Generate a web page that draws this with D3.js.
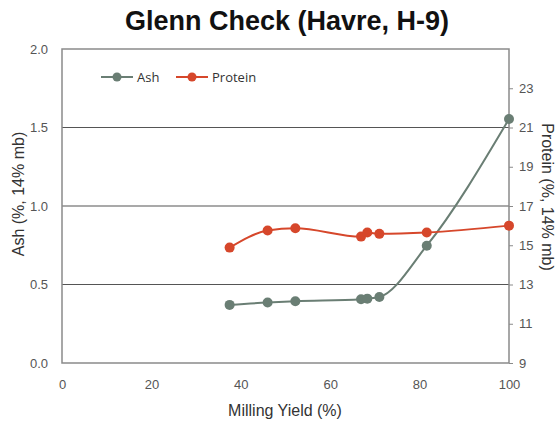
<!DOCTYPE html>
<html><head><meta charset="utf-8">
<script src="https://cdn.jsdelivr.net/npm/d3@7"></script>
<style>body{margin:0;background:#fff;}svg{display:block;}</style>
</head><body>
<svg id="c" width="560" height="427"></svg>
<script>
const millingYield = [37.5, 46.0, 52.2, 66.9, 68.3, 71.0, 81.6, 100];
const ashValues = [0.37, 0.385, 0.393, 0.406, 0.41, 0.42, 0.747, 1.554];
const proteinValues = [14.88, 15.75, 15.87, 15.44, 15.65, 15.58, 15.65, 16.0];
const xTicks = [0, 20, 40, 60, 80, 100];
const ashTicks = [0.0, 0.5, 1.0, 1.5, 2.0];
const proteinTicks = [9, 11, 13, 15, 17, 19, 21, 23];
const seriesNames = ["Ash", "Protein"];
const colors = {Ash: "#6a7e74", Protein: "#d6472b"};

const svg = d3.select("#c");
const L = 62, R = 509, T = 49, B = 363;
const x = d3.scaleLinear().domain([0, 100]).range([L, R]);
const yA = d3.scaleLinear().domain([0, 2]).range([B, T]);
const yP = d3.scaleLinear().domain([9, 25]).range([B, T]);
const font = "Liberation Sans, Arial, sans-serif";

// title
svg.append("text").attr("x", 287).attr("y", 30).attr("text-anchor", "middle")
  .attr("font-family", font).attr("font-weight", "bold").attr("font-size", 27)
  .attr("fill", "#111").text("Glenn Check (Havre, H-9)");

// gridlines
svg.append("g").selectAll("line").data(ashTicks.filter(d => d > 0 && d < 2)).join("line")
  .attr("x1", L).attr("x2", R).attr("y1", d => yA(d)).attr("y2", d => yA(d))
  .attr("stroke", "#555").attr("stroke-width", 1.2);

// frame
svg.append("rect").attr("x", L).attr("y", T).attr("width", R - L).attr("height", B - T)
  .attr("fill", "none").attr("stroke", "#8a8a8a").attr("stroke-width", 1.5);

// left axis
const gL = svg.append("g").attr("transform", `translate(${L},0)`)
  .call(d3.axisLeft(yA).tickValues(ashTicks).tickFormat(d3.format(".1f")).tickSize(0).tickPadding(14));
gL.select(".domain").remove();
gL.selectAll("text").attr("font-family", font).attr("font-size", 13).attr("fill", "#555");

// right axis
const gR = svg.append("g").attr("transform", `translate(${R},0)`)
  .call(d3.axisRight(yP).tickValues(proteinTicks).tickSize(4).tickPadding(6));
gR.select(".domain").remove();
gR.selectAll("line").attr("stroke", "#8a8a8a");
gR.selectAll("text").attr("font-family", font).attr("font-size", 13).attr("fill", "#555");

// bottom axis
const gB = svg.append("g").attr("transform", `translate(0,${B})`)
  .call(d3.axisBottom(x).tickValues(xTicks).tickSize(0).tickPadding(17));
gB.select(".domain").remove();
gB.selectAll("text").attr("font-family", font).attr("font-size", 13).attr("fill", "#555");

// axis titles
svg.append("text").attr("transform", "translate(24,194) rotate(-90)").attr("text-anchor", "middle")
  .attr("font-family", font).attr("font-size", 16).attr("fill", "#333").text("Ash (%, 14% mb)");
svg.append("text").attr("transform", "translate(542,197) rotate(90)").attr("text-anchor", "middle")
  .attr("font-family", font).attr("font-size", 16).attr("fill", "#333").text("Protein (%, 14% mb)");
svg.append("text").attr("x", 285).attr("y", 416).attr("text-anchor", "middle")
  .attr("font-family", font).attr("font-size", 16).attr("fill", "#333").text("Milling Yield (%)");

// series
const series = [
  {name: "Ash", vals: ashValues, y: yA},
  {name: "Protein", vals: proteinValues, y: yP}
];
series.forEach(s => {
  const pts = millingYield.map((m, i) => [m, s.vals[i]]);
  svg.append("path").datum(pts)
    .attr("d", d3.line().x(d => x(d[0])).y(d => s.y(d[1])).curve(d3.curveMonotoneX))
    .attr("fill", "none").attr("stroke", colors[s.name]).attr("stroke-width", 2);
  svg.append("g").selectAll("circle").data(pts).join("circle")
    .attr("cx", d => x(d[0])).attr("cy", d => s.y(d[1])).attr("r", 5)
    .attr("fill", colors[s.name]);
});

// legend
const leg = svg.append("g");
const legX = [101, 176];
seriesNames.forEach((n, i) => {
  const g = leg.append("g").attr("transform", `translate(${legX[i]},77)`);
  g.append("line").attr("x1", 0).attr("x2", 32).attr("stroke", colors[n]).attr("stroke-width", 2);
  g.append("circle").attr("cx", 16).attr("r", 4.5).attr("fill", colors[n]);
  g.append("text").attr("x", 36).attr("y", 4.5).attr("font-family", "Open Sans, sans-serif")
    .attr("font-size", 13).attr("fill", "#333").text(n);
});
</script>
</body></html>
